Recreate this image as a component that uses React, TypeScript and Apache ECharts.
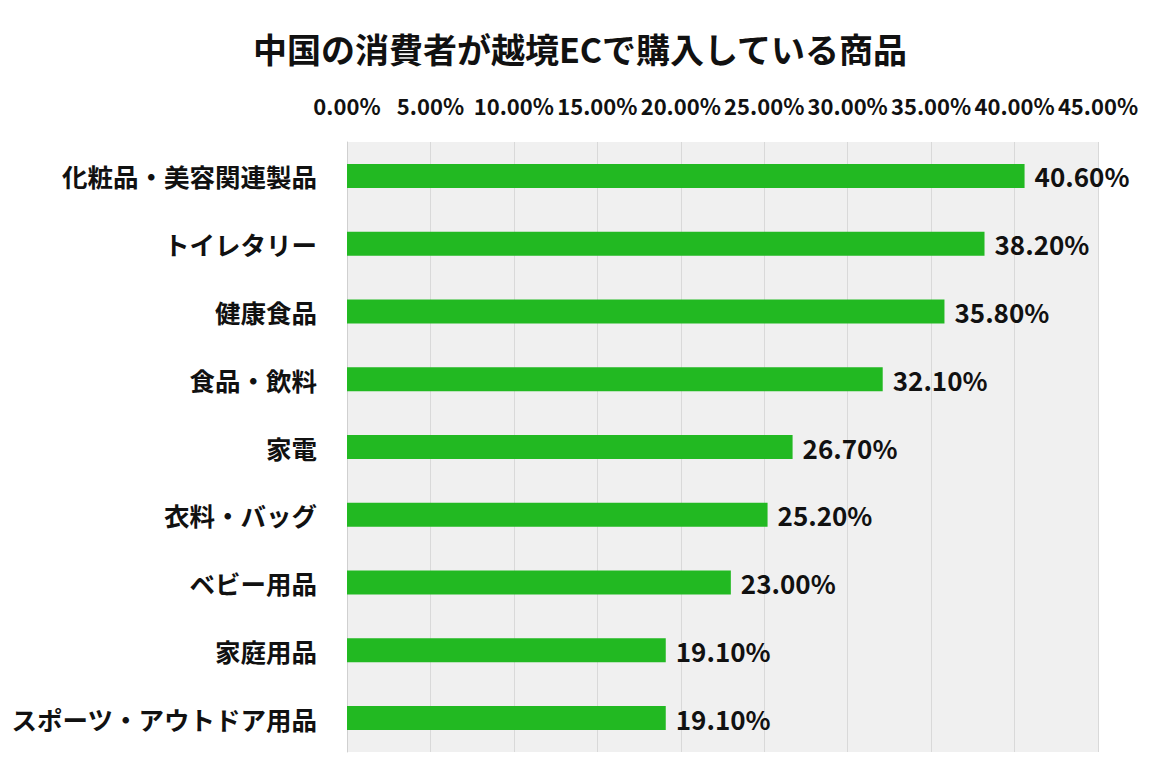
import React, { useEffect, useRef } from "react";
import * as echarts from "echarts";

const titleText = "中国の消費者が越境ECで購入している商品";
const categories = [
  "化粧品・美容関連製品",
  "トイレタリー",
  "健康食品",
  "食品・飲料",
  "家電",
  "衣料・バッグ",
  "ベビー用品",
  "家庭用品",
  "スポーツ・アウトドア用品",
];
const values = [40.6, 38.2, 35.8, 32.1, 26.7, 25.2, 23.0, 19.1, 19.1];
const axisMax = 45;
const axisInterval = 5;

const FONT = "'Noto Sans CJK JP', 'Noto Sans', sans-serif";

export default function App() {
  const ref = useRef<HTMLDivElement>(null);
  useEffect(() => {
    if (!ref.current) return;
    const chart = echarts.init(ref.current, undefined, { renderer: "svg" });
    chart.setOption({
      animation: false,
      backgroundColor: "#ffffff",
      textStyle: { fontFamily: FONT },
      title: {
        text: titleText,
        left: "center",
        top: 18,
        textStyle: { fontFamily: FONT, fontSize: 34, fontWeight: "bold", color: "#111" },
      },
      grid: {
        left: 338,
        right: 54,
        top: 134,
        bottom: 13,
        show: true,
        backgroundColor: "#f0f0f0",
        borderWidth: 0,
      },
      xAxis: {
        type: "value",
        position: "top",
        min: 0,
        max: axisMax,
        interval: axisInterval,
        axisLine: { show: false },
        axisTick: { show: false },
        splitLine: { show: true, lineStyle: { color: "#d9d9d9", width: 1 } },
        axisLabel: {
          fontFamily: FONT,
          fontSize: 22,
          fontWeight: "bold",
          color: "#111",
          margin: 26,
          formatter: (v: number) => v.toFixed(2) + "%",
        },
      },
      yAxis: {
        type: "category",
        data: categories,
        inverse: true,
        axisLine: { show: true, lineStyle: { color: "#d0d0d0", width: 1 } },
        axisTick: { show: false },
        axisLabel: {
          fontFamily: FONT,
          fontSize: 25.5,
          fontWeight: "bold",
          color: "#111",
          margin: 30,
        },
      },
      series: [
        {
          type: "bar",
          data: values,
          barWidth: 24,
          itemStyle: { color: "#22b922" },
          label: {
            show: true,
            position: "right",
            distance: 10,
            fontFamily: FONT,
            fontSize: 26,
            fontWeight: "bold",
            color: "#111",
            formatter: (p: any) => p.value.toFixed(2) + "%",
          },
        },
      ],
    });
    return () => chart.dispose();
  }, []);
  return <div ref={ref} style={{ width: 1144, height: 757 }} />;
}
